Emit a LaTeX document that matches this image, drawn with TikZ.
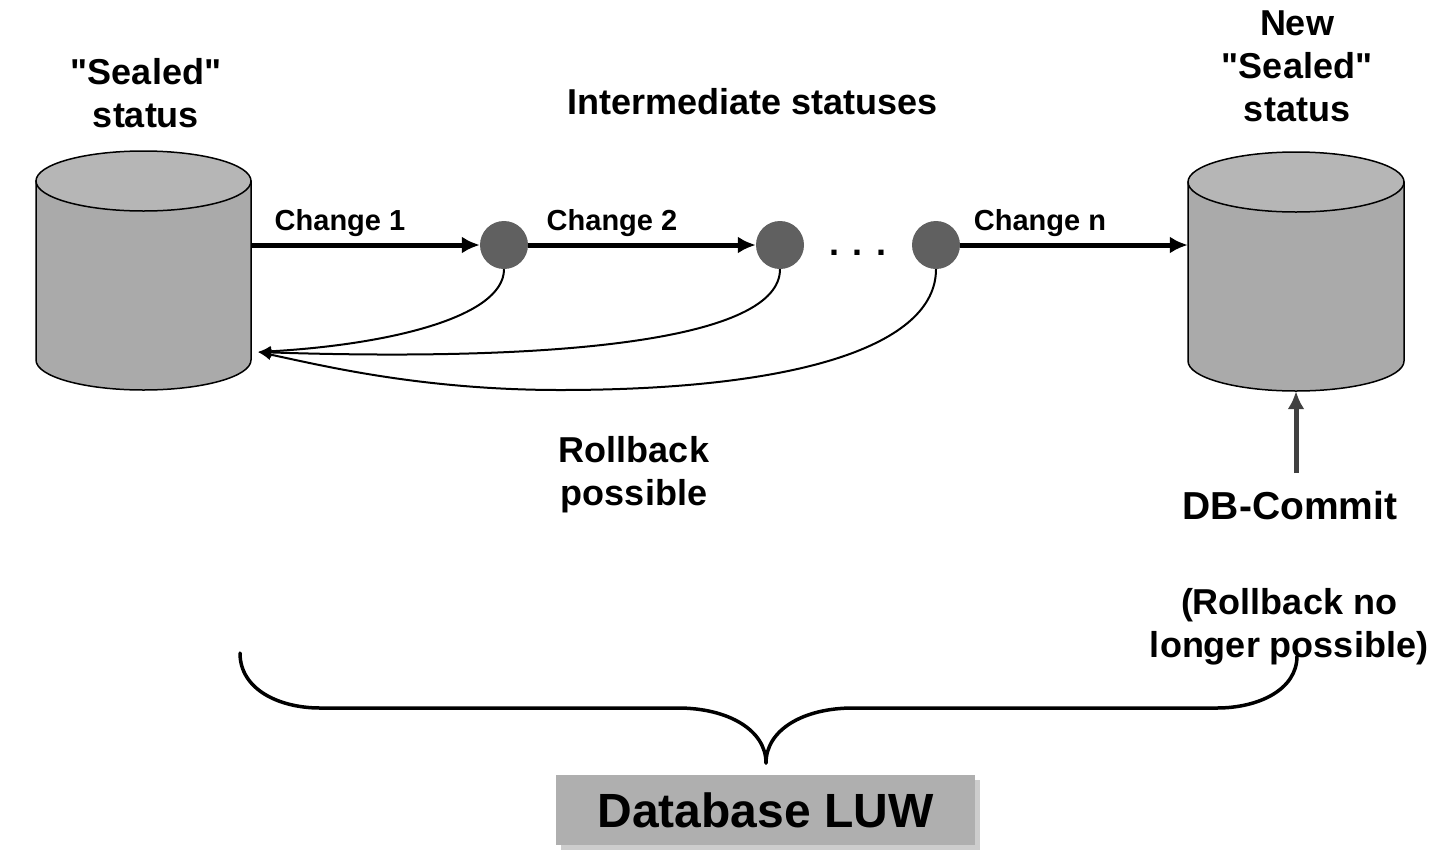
\documentclass[tikz,border=0pt]{standalone}
\usepackage{fontspec}
\setmainfont{Liberation Sans}
\usetikzlibrary{arrows.meta}
\definecolor{sidegray}{HTML}{AAAAAA}
\definecolor{topgray}{HTML}{B6B6B6}
\definecolor{circgray}{HTML}{606060}
\definecolor{boxgray}{HTML}{AFAFAF}
\definecolor{shadowgray}{HTML}{CDCDCD}
\definecolor{commitgray}{HTML}{404040}
\begin{document}
\begin{tikzpicture}[x=1pt,y=-1pt,
  lbl/.style={font=\bfseries\fontsize{36}{43}\selectfont, inner sep=0pt, align=center, anchor=base},
  chg/.style={font=\bfseries\fontsize{29}{35}\selectfont, inner sep=0pt, anchor=base},
  state/.style={circle, fill=circgray, minimum size=48pt, inner sep=0pt},
  drum/.style={inner sep=0pt, minimum width=216pt, minimum height=240pt},
  flow/.style={line width=5pt, -{Latex[length=18pt,width=17pt]}},
  back/.style={line width=2pt, -{Latex[length=13pt,width=11pt]}},
  commit/.style={line width=5pt, draw=commitgray, -{Latex[length=18pt,width=17pt]}},
  brace/.style={line width=3.5pt, line cap=round},
  luw/.style={fill=boxgray, minimum width=419pt, minimum height=70pt, inner sep=0pt,
              font=\bfseries\fontsize{48}{56}\selectfont}
]
\useasboundingbox[fill=white] (0,0) rectangle (1440,860);

% left cylinder
\draw[line width=1.5pt, fill=sidegray] (36,181) -- (36,360)
  arc[start angle=180, end angle=0, x radius=107.5, y radius=30] -- (251,181) -- cycle;
\draw[line width=1.5pt, fill=topgray] (143.5,181) ellipse [x radius=107.5, y radius=30];
\node[drum] (db1) at (143.5,271) {};

% right cylinder
\draw[line width=1.5pt, fill=sidegray] (1188,182) -- (1188,361)
  arc[start angle=180, end angle=0, x radius=108, y radius=30] -- (1404,182) -- cycle;
\draw[line width=1.5pt, fill=topgray] (1296,182) ellipse [x radius=108, y radius=30];
\node[drum] (db2) at (1296,271) {};

% titles (base anchor = baseline of the last line)
\node[lbl] (t1) at (146,127) {\textquotedbl Sealed\textquotedbl\\status};
\node[lbl] (t2) at (1297,121) {New\\\textquotedbl Sealed\textquotedbl\\status};
\node[lbl] (t3) at (753,114) {Intermediate statuses};

% intermediate states
\node[state] (c1) at (504,245) {};
\node[state] (c2) at (780,245) {};
\node[state] (c3) at (936,245) {};
\node[lbl] (dots) at (858,255) {. . .};

% change arrows
\draw[flow] (db1.east |- c1) -- (c1);
\draw[flow] (c1) -- (c2);
\draw[flow] (c3) -- (db2.west |- c3);
\node[chg] (l1) at (340,230) {Change 1};
\node[chg] (l2) at (612,230) {Change 2};
\node[chg] (l3) at (1040,230) {Change n};

% rollback arrows
\coordinate (rb) at (258,352);
\draw[back] (c1.south) .. controls (504,318) and (385,345) .. (rb);
\draw[back] (c2.south) .. controls (780,340) and (560,362) .. (rb);
\draw[back] (c3.south) .. controls (936,345) and (800,390) .. (560,390)
  .. controls (420,390) and (320,365) .. (rb);
\node[lbl] (rbl) at (634,505) {Rollback\\possible};

% commit
\node[lbl, font=\bfseries\fontsize{39}{46}\selectfont] (cm) at (1290,519) {DB-Commit};
\coordinate (cmtail) at (1296,473);
\draw[commit] (cmtail) -- (db2.south);
\node[lbl] (nolonger) at (1289,657) {(Rollback no\\longer possible)};

% brace
\draw[brace] (240,653) .. controls (240,690) and (280,708) .. (320,708) -- (678,708)
  .. controls (728,708) and (766,730) .. (766,763);
\draw[brace] (766,763) .. controls (766,730) and (803,708) .. (853,708) -- (1217,708)
  .. controls (1258,708) and (1297,690) .. (1297,656);

% LUW box
\fill[shadowgray] (561,780) rectangle (980,850);
\node[luw] (luw) at (765.5,810) {Database LUW};
\end{tikzpicture}
\end{document}
